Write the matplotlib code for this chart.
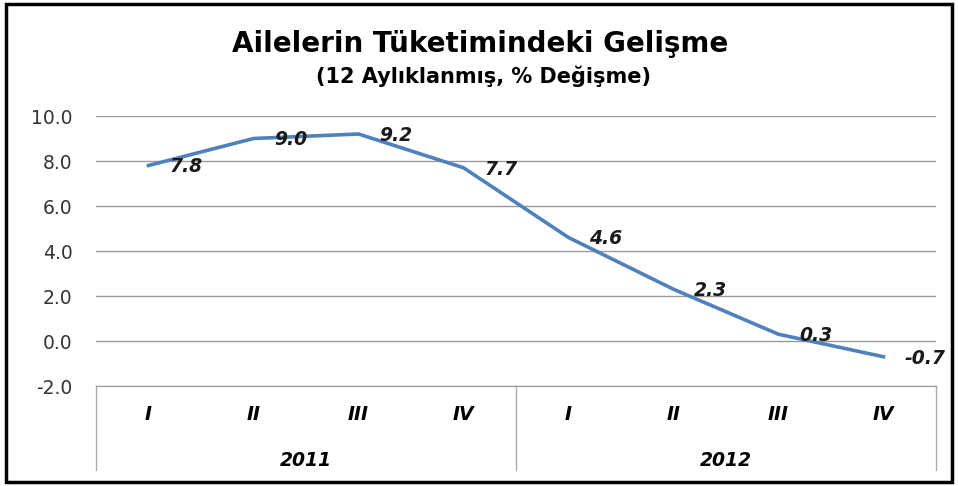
import matplotlib.pyplot as plt
from matplotlib.patches import Rectangle
import matplotlib.transforms as mtransforms

# data
quarters = ["I", "II", "III", "IV", "I", "II", "III", "IV"]
years = ["2011", "2012"]
values = [7.8, 9.0, 9.2, 7.7, 4.6, 2.3, 0.3, -0.7]
yticks = [-2.0, 0.0, 2.0, 4.0, 6.0, 8.0, 10.0]

W, H = 958, 486
fig = plt.figure(figsize=(W / 100, H / 100), dpi=100)
ax = fig.add_axes([96 / W, 1 - 386 / H, (936 - 96) / W, (386 - 116) / H])

line_col = "#4F81BD"
grid_col = "#9A9A9A"

x = list(range(len(values)))
ax.plot(x, values, color=line_col, lw=2.6, solid_joinstyle="round")
for xi, v in zip(x, values):
    ax.annotate(f"{v:.1f}", (xi, v), xytext=(15, -1), textcoords="offset points",
                ha="left", va="center", fontsize=13.5, fontweight="bold",
                fontstyle="italic", color="#1a1a1a")

ax.set_xlim(-0.5, len(values) - 0.5)
ax.set_ylim(-2, 10)
ax.set_yticks(yticks)
ax.set_yticklabels([f"{t:.1f}" for t in yticks], fontsize=13.5, color="#333333")
ax.tick_params(axis="y", length=0, pad=17)
ax.yaxis.grid(True, color=grid_col, lw=1)
ax.set_axisbelow(True)

ax.set_xticks(x)
ax.set_xticklabels(quarters, fontsize=13.5, fontweight="bold", fontstyle="italic")
ax.tick_params(axis="x", length=0, pad=14)

for s in ["top", "right", "left"]:
    ax.spines[s].set_visible(False)
ax.spines["bottom"].set_color(grid_col)

# category box below the axis
trans = mtransforms.blended_transform_factory(ax.transData, ax.transAxes)
depth = -(470 - 386) / (386 - 116)
for xv in [-0.5, 3.5, 7.5]:
    ax.plot([xv, xv], [0, depth], transform=trans, color="#AAAAAA", lw=1, clip_on=False)
for i, yr in enumerate(years):
    ax.text(1.5 + 4 * i, -(460 - 386) / (386 - 116), yr, transform=trans,
            ha="center", va="center", fontsize=13.5, fontweight="bold", fontstyle="italic")

fig.text(480 / W, 1 - 44 / H, "Ailelerin Tüketimindeki Gelişme", ha="center", va="center",
         fontsize=20, fontweight="bold")
fig.text(484 / W, 1 - 76 / H, "(12 Aylıklanmış, % Değişme)", ha="center", va="center",
         fontsize=15, fontweight="bold")

# outer frame
fig.patches.append(Rectangle((6 / W, 4 / H), 946 / W, 478 / H, transform=fig.transFigure,
                             fill=False, edgecolor="black", lw=2.5))

fig.savefig("out.png", dpi=100)
